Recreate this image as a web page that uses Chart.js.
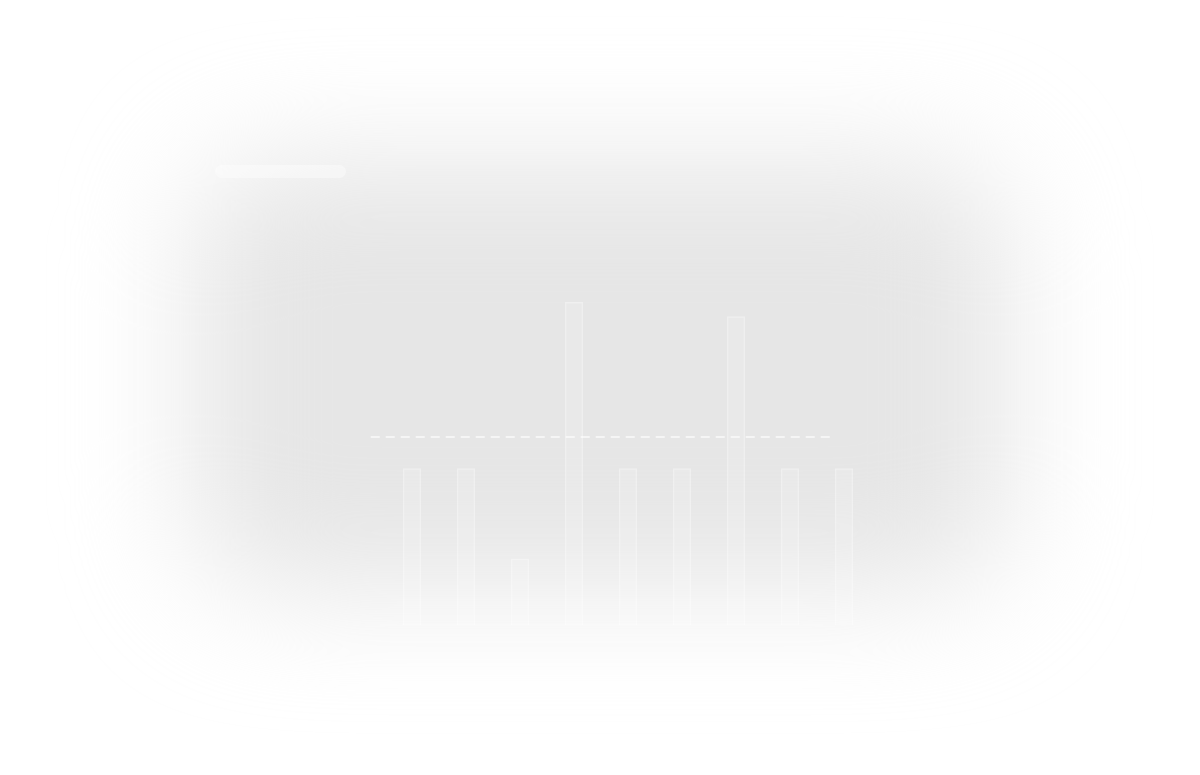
<!DOCTYPE html>
<html>
<head>
<meta charset="utf-8">
<script src="https://cdn.jsdelivr.net/npm/chart.js@4.4.1/dist/chart.umd.min.js"></script>
<style>
  html, body { margin:0; padding:0; width:1200px; height:775px; background:#ffffff; overflow:hidden; }
  #glow { position:absolute; left:190px; top:160px; width:820px; height:430px; background:#e6e6e6; border-radius:90px; filter:blur(60px); }
  #titlePh { position:absolute; left:215px; top:165px; width:131px; height:13px; border-radius:7px; background:rgba(255,255,255,0.4); }
  #wrap { position:absolute; left:0; top:0; width:1200px; height:775px; }
</style>
</head>
<body>
<div id="glow"></div>
<div id="titlePh"></div>
<div id="wrap"><canvas id="c" width="1200" height="775"></canvas></div>
<script>
// Categories (no readable labels in the reference)
const categories = ["", "", "", "", "", "", "", "", ""];
// Bar values (scale 0-100)
const barValues = [33, 33, 14, 68, 33, 33, 65, 33, 33];
// Dashed reference level
const refLevel = 39.6;
const refStart = -1.36;
const refEnd = 8.28;
// Baseline extent
const baseStart = -1.16;
const baseEnd = 8.07;

const ctx = document.getElementById('c').getContext('2d');
new Chart(ctx, {
  type: 'bar',
  data: {
    labels: categories,
    datasets: [
      {
        type: 'bar',
        data: barValues,
        grouped: false,
        backgroundColor: 'rgba(255,255,255,0.14)',
        borderColor: 'rgba(255,255,255,0.38)',
        borderWidth: 1.5,
        categoryPercentage: 1,
        barPercentage: 0.34,
        xAxisID: 'x',
        order: 2
      },
      {
        type: 'line',
        data: [{x: refStart, y: refLevel}, {x: refEnd, y: refLevel}],
        borderColor: 'rgba(255,255,255,0.6)',
        borderWidth: 2,
        borderDash: [9, 6],
        pointRadius: 0,
        clip: false,
        xAxisID: 'xl',
        order: 1
      },
      {
        type: 'line',
        data: [{x: baseStart, y: 0}, {x: baseEnd, y: 0}],
        borderColor: 'rgba(255,255,255,0.4)',
        borderWidth: 1,
        pointRadius: 0,
        clip: false,
        xAxisID: 'xl',
        order: 1
      }
    ]
  },
  options: {
    responsive: false,
    animation: false,
    events: [],
    layout: { padding: { left: 385, right: 329, top: 150, bottom: 150 } },
    plugins: { legend: { display: false }, tooltip: { enabled: false }, title: { display: false } },
    scales: {
      x: { type: 'category', display: false, offset: true },
      xl: { type: 'linear', display: false, min: -0.5, max: 8.5 },
      y: { display: false, min: 0, max: 100 }
    }
  }
});
</script>
</body>
</html>
